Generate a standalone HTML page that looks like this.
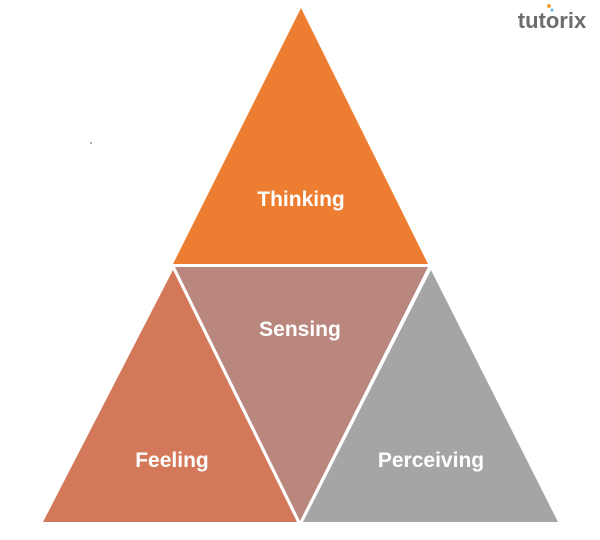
<!DOCTYPE html>
<html><head><style>
html,body{margin:0;padding:0;background:#fff;width:600px;height:540px;overflow:hidden}
</style></head><body>
<svg width="600" height="540" viewBox="0 0 600 540" xmlns="http://www.w3.org/2000/svg">
<polygon points="301,8 428,264 173,264" fill="#ED7D31"/>
<polygon points="175,267 428,267 300,521" fill="#B9877E"/>
<polygon points="173,270 297,522 43,522" fill="#D4785A"/>
<polygon points="431,270 558,522 303,522" fill="#A5A5A5"/>
<g font-family="Liberation Sans, sans-serif" font-weight="bold" font-size="21" fill="#fff" text-anchor="middle">
<text x="301" y="206">Thinking</text>
<text x="300" y="336">Sensing</text>
<text x="172" y="467">Feeling</text>
<text x="431" y="467">Perceiving</text>
</g>
<text x="552" y="28" font-family="Liberation Sans, sans-serif" font-weight="bold" font-size="22" fill="#6d6d6d" text-anchor="middle">tutorix</text>
<circle cx="549" cy="6" r="2" fill="#f0a030"/>
<circle cx="552" cy="10" r="1.5" fill="#5bc0de"/>
<circle cx="91" cy="143" r="0.7" fill="#333"/>
</svg>
</body></html>
